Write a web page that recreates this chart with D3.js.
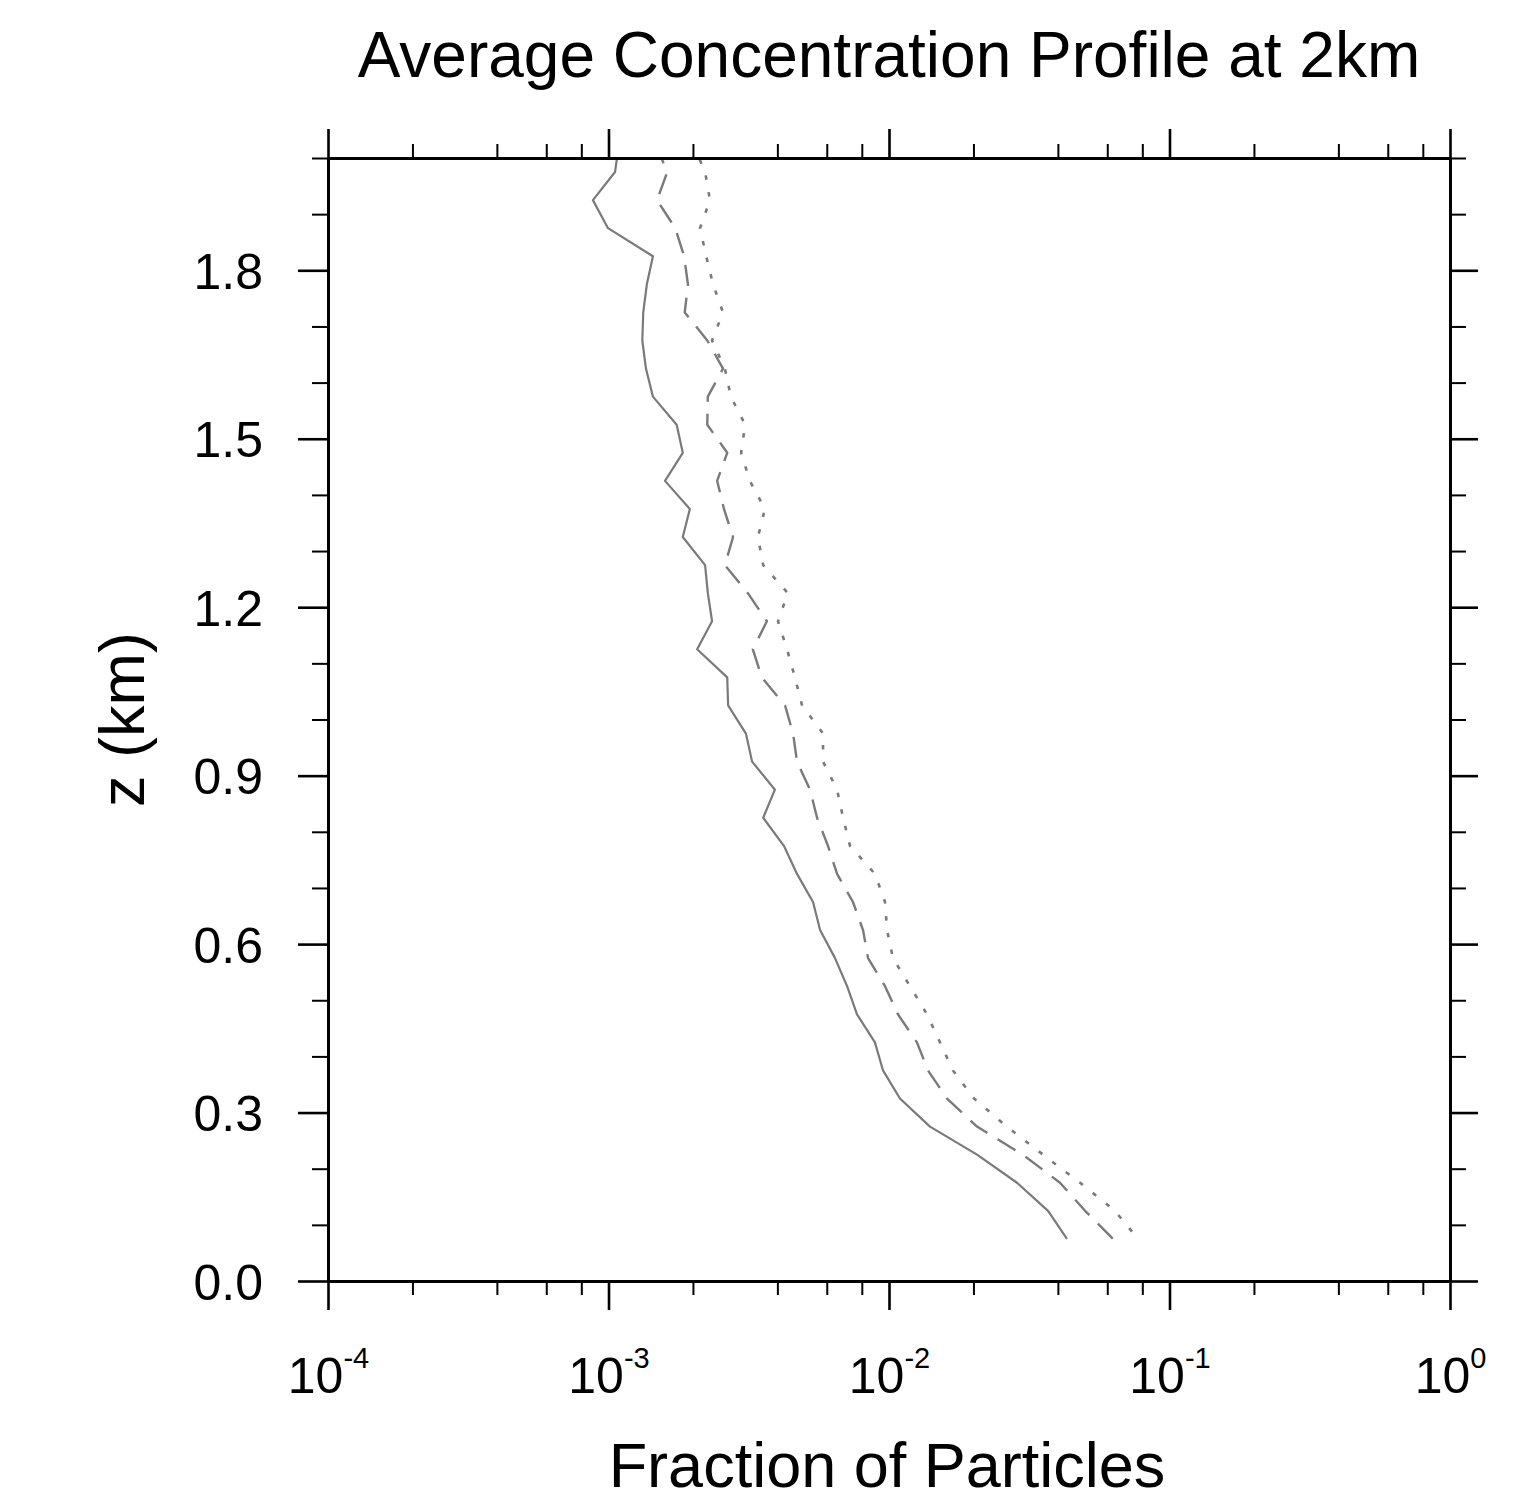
<!DOCTYPE html>
<html>
<head>
<meta charset="utf-8">
<script src="https://cdn.jsdelivr.net/npm/d3@7"></script>
<style>
  body { margin: 0; background: #fff; }
  svg text { font-family: "Liberation Sans", Arial, Helvetica, sans-serif; fill: #000; }
</style>
</head>
<body>
<svg id="chart" width="1513" height="1501"></svg>
<script>
// heights (km) of the profile points
var heights = [2.025, 1.975, 1.925, 1.875, 1.825, 1.775, 1.725, 1.675, 1.625, 1.575,
               1.525, 1.475, 1.425, 1.375, 1.325, 1.275, 1.225, 1.175, 1.125, 1.075,
               1.025, 0.975, 0.925, 0.875, 0.825, 0.775, 0.725, 0.675, 0.625, 0.575,
               0.525, 0.475, 0.425, 0.375, 0.325, 0.275, 0.225, 0.175, 0.125, 0.075];

// fraction of particles, solid curve
var conc1 = [1.09e-3, 1.055e-3, 0.88e-3, 0.996e-3, 1.44e-3, 1.37e-3, 1.33e-3, 1.32e-3, 1.36e-3, 1.44e-3,
             1.75e-3, 1.84e-3, 1.59e-3, 1.95e-3, 1.84e-3, 2.21e-3, 2.26e-3, 2.34e-3, 2.07e-3, 2.65e-3,
             2.67e-3, 3.09e-3, 3.25e-3, 3.92e-3, 3.56e-3, 4.22e-3, 4.70e-3, 5.36e-3, 5.68e-3, 6.42e-3,
             7.09e-3, 7.69e-3, 8.91e-3, 9.52e-3, 1.094e-2, 1.40e-2, 2.06e-2, 2.86e-2, 3.69e-2, 4.31e-2];

// dashed curve
var conc2 = [1.47e-3, 1.62e-3, 1.49e-3, 1.73e-3, 1.86e-3, 1.92e-3, 1.87e-3, 2.25e-3, 2.56e-3, 2.26e-3,
             2.25e-3, 2.65e-3, 2.44e-3, 2.58e-3, 2.78e-3, 2.60e-3, 3.14e-3, 3.67e-3, 3.27e-3, 3.52e-3,
             4.26e-3, 4.55e-3, 4.70e-3, 5.23e-3, 5.54e-3, 6.06e-3, 6.53e-3, 7.44e-3, 8.08e-3, 8.42e-3,
             9.68e-3, 1.076e-2, 1.258e-2, 1.377e-2, 1.61e-2, 2.06e-2, 3.00e-2, 4.07e-2, 5.00e-2, 6.29e-2];

// dotted curve
var conc3 = [2.00e-3, 2.21e-3, 2.30e-3, 2.12e-3, 2.23e-3, 2.36e-3, 2.56e-3, 2.34e-3, 2.60e-3, 2.73e-3,
             3.07e-3, 2.97e-3, 3.19e-3, 3.61e-3, 3.41e-3, 3.56e-3, 4.36e-3, 4.02e-3, 4.33e-3, 4.62e-3,
             4.90e-3, 5.82e-3, 5.82e-3, 6.53e-3, 6.86e-3, 7.26e-3, 8.91e-3, 9.68e-3, 9.84e-3, 1.033e-2,
             1.188e-2, 1.366e-2, 1.52e-2, 1.69e-2, 2.01e-2, 2.63e-2, 3.54e-2, 4.80e-2, 6.39e-2, 7.72e-2];

var xMajor = [1e-4, 1e-3, 1e-2, 1e-1, 1];
var xExponents = ["-4", "-3", "-2", "-1", "0"];
var xMinorMult = [2, 4, 6, 8];
var yMajor = [0, 0.3, 0.6, 0.9, 1.2, 1.5, 1.8];
var yMinor = [0.1, 0.2, 0.4, 0.5, 0.7, 0.8, 1.0, 1.1, 1.3, 1.4, 1.6, 1.7, 1.9, 2.0];

var titleText = "Average Concentration Profile at 2km";
var xTitle = "Fraction of Particles";
var yTitle = "z (km)";

var plotLeft = 328, plotRight = 1450, plotTop = 158, plotBottom = 1281;

var svg = d3.select("#chart");

var x = d3.scaleLog().domain([1e-4, 1]).range([plotLeft, plotRight]);
var y = d3.scaleLinear().domain([0, 2]).range([plotBottom, plotTop]);

var xMinor = [];
xMajor.slice(0, -1).forEach(function(d) {
    xMinorMult.forEach(function(m) { xMinor.push(d * m); });
});

svg.append("defs").append("clipPath").attr("id", "plotClip")
    .append("rect")
    .attr("x", plotLeft).attr("y", plotTop)
    .attr("width", plotRight - plotLeft).attr("height", plotBottom - plotTop);

// curves
var line = d3.line()
    .x(function(d) { return x(d.v); })
    .y(function(d) { return y(d.z); });

var series = [
    { values: conc1, dash: null, width: 2.2 },
    { values: conc2, dash: "21,12", width: 2.4 },
    { values: conc3, dash: "4.5,12.5", width: 2.6 }
];

var curves = svg.append("g").attr("clip-path", "url(#plotClip)");
series.forEach(function(s) {
    var pts = heights.map(function(z, i) { return { z: z, v: s.values[i] }; });
    curves.append("path")
        .datum(pts)
        .attr("d", line)
        .attr("fill", "none")
        .attr("stroke", "#7a7a7a")
        .attr("stroke-width", s.width)
        .attr("stroke-linejoin", "round")
        .attr("stroke-dasharray", s.dash);
});

// axes
function styleAxis(g, width) {
    g.select(".domain").attr("stroke", "#000").attr("stroke-width", 3);
    g.selectAll(".tick line").attr("stroke", "#000").attr("stroke-width", width);
}

// minor ticks
svg.append("g").attr("transform", "translate(0," + plotBottom + ")")
    .call(d3.axisBottom(x).tickValues(xMinor).tickSize(14).tickSizeOuter(0).tickFormat(""))
    .call(styleAxis, 2);
svg.append("g").attr("transform", "translate(0," + plotTop + ")")
    .call(d3.axisTop(x).tickValues(xMinor).tickSize(14).tickSizeOuter(0).tickFormat(""))
    .call(styleAxis, 2);
svg.append("g").attr("transform", "translate(" + plotLeft + ",0)")
    .call(d3.axisLeft(y).tickValues(yMinor).tickSize(16).tickSizeOuter(0).tickFormat(""))
    .call(styleAxis, 2);
svg.append("g").attr("transform", "translate(" + plotRight + ",0)")
    .call(d3.axisRight(y).tickValues(yMinor).tickSize(16).tickSizeOuter(0).tickFormat(""))
    .call(styleAxis, 2);

// major ticks
var xBottom = svg.append("g").attr("transform", "translate(0," + plotBottom + ")")
    .call(d3.axisBottom(x).tickValues(xMajor).tickSize(29).tickSizeOuter(0))
    .call(styleAxis, 2.6);
svg.append("g").attr("transform", "translate(0," + plotTop + ")")
    .call(d3.axisTop(x).tickValues(xMajor).tickSize(29).tickSizeOuter(0).tickFormat(""))
    .call(styleAxis, 2.6);
var yLeft = svg.append("g").attr("transform", "translate(" + plotLeft + ",0)")
    .call(d3.axisLeft(y).tickValues(yMajor).tickSize(30).tickPadding(35).tickSizeOuter(0).tickFormat(d3.format(".1f")))
    .call(styleAxis, 2.6);
svg.append("g").attr("transform", "translate(" + plotRight + ",0)")
    .call(d3.axisRight(y).tickValues(yMajor).tickSize(28).tickSizeOuter(0).tickFormat(""))
    .call(styleAxis, 2.6);

yLeft.selectAll(".tick text")
    .attr("font-size", 50)
    .attr("font-family", null)
    .attr("dy", "0.36em");

// x tick labels as 10 with superscript exponent
xBottom.selectAll(".tick text").each(function(d, i) {
    var t = d3.select(this);
    t.text(null)
        .attr("y", 112)
        .attr("dy", null)
        .attr("font-family", null)
        .attr("text-anchor", "middle");
    t.append("tspan").attr("font-size", 50).text("10");
    t.append("tspan").attr("font-size", 29).attr("dy", -25).text(xExponents[i]);
});
svg.selectAll(".tick text").attr("fill", "#000");

// titles
svg.append("text")
    .attr("x", (plotLeft + plotRight) / 2)
    .attr("y", 77)
    .attr("text-anchor", "middle")
    .attr("font-size", 64)
    .text(titleText);

svg.append("text")
    .attr("x", (plotLeft + plotRight) / 2 - 2)
    .attr("y", 1487)
    .attr("text-anchor", "middle")
    .attr("font-size", 63)
    .text(xTitle);

svg.append("text")
    .attr("transform", "translate(144," + ((plotTop + plotBottom) / 2) + ") rotate(-90)")
    .attr("text-anchor", "middle")
    .attr("font-size", 63)
    .text(yTitle);
</script>
</body>
</html>
